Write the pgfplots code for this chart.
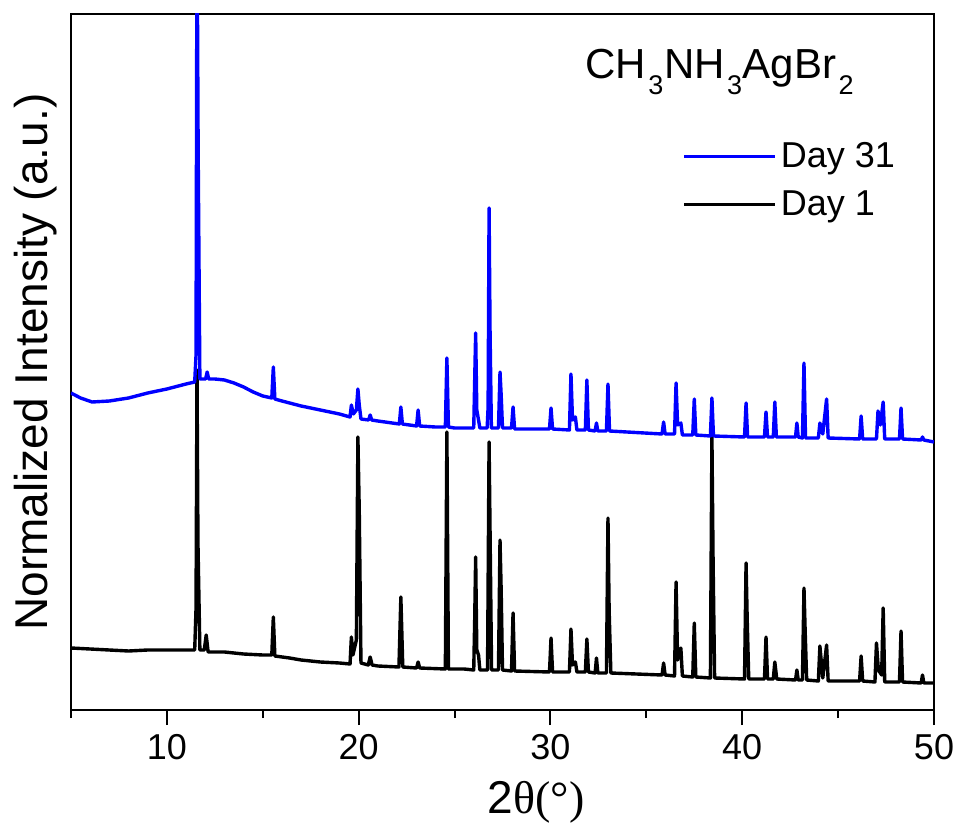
\documentclass[border=0pt]{standalone}
\usepackage{fontspec}
\setmainfont{Liberation Sans}
\newfontfamily\seriffont{Liberation Serif}
\usepackage{pgfplots}
\pgfplotsset{compat=1.18}
\newcommand\sub[1]{\hspace{1.2pt}\raisebox{-8pt}{\fontsize{13.5}{14}\selectfont #1}\hspace{0.3pt}}

\begin{document}
\begin{tikzpicture}
\begin{axis}[
    name=ax,
    scale only axis,
    width=431.5pt, height=348pt,
    xmin=5, xmax=50, ymin=0, ymax=696,
    axis line style={line width=1pt},
    xtick={10,20,30,40,50},
    minor xtick={5,15,25,35,45},
    ytick=\empty,
    xtick pos=left,
    tick align=outside,
    major tick length=7.5pt,
    minor tick length=4pt,
    every tick/.style={black, line width=1pt},
    /pgf/number format/assume math mode=true,
    xticklabel style={font=\fontsize{18}{20}\selectfont, anchor=base, yshift=-17pt},
    xlabel={2{\seriffont θ(°)}},
    ylabel={Normalized Intensity (a.u.)},
    label style={font=\fontsize{23}{26}\selectfont},
    xlabel style={at={(axis description cs:0.539,0)}, anchor=base, yshift=-51.5pt},
    ylabel style={at={(axis description cs:-0.0267,0.5)}, anchor=base},
    legend style={draw=none, fill=none, at={(axis description cs:0.708,0.822)},
        anchor=north west, inner sep=0pt, font=\fontsize{18}{20}\selectfont,
        row sep=6pt},
    legend cell align=left,
    reverse legend,
    legend image code/.code={\draw[#1] (0pt,0pt) -- (45.5pt,0pt);},
    every axis plot/.append style={line width=1.7pt, line join=round},
]
% Day 1
\addplot[black] coordinates {
(5,62) (6,61) (7,60) (8,59) (9,60) (10,60) (11,60) (11.45,60) (11.52,102) (11.57,340) (11.62,167) (11.72,60)
(11.95,60) (12.05,75) (12.15,58) (13,58) (14,56) (15,55) (15.47,55) (15.55,93) (15.63,54) (16.4,52) (17,50)
(18,48) (19,47) (19.55,46) (19.62,73) (19.7,55) (19.88,70) (19.96,273) (20.03,200) (20.12,47) (20.5,45)
(20.6,53) (20.7,45) (21,44) (22.1,43) (22.2,113) (22.3,43) (23.02,42) (23.1,48) (23.18,42) (24.52,41)
(24.6,278) (24.68,41) (25.5,41) (26.0,40) (26.05,90) (26.1,153) (26.16,60) (26.25,55) (26.32,40) (26.72,40)
(26.8,268) (26.85,180) (26.93,40) (27.29,40) (27.37,170) (27.43,120) (27.5,40) (27.97,39) (28.05,97) (28.13,39)
(29.95,38) (30.03,72) (30.11,38) (30.99,38) (31.07,81) (31.15,45) (31.3,48) (31.38,38) (31.82,38) (31.9,71)
(31.98,38) (32.33,37) (32.4,52) (32.47,37) (32.92,37) (33.0,192) (33.06,100) (33.15,37) (35.82,35) (35.9,47)
(35.98,35) (36.47,34) (36.55,128) (36.63,50) (36.8,62) (36.88,34) (37.42,33) (37.5,87) (37.58,33) (38.34,32)
(38.42,273) (38.48,150) (38.56,32) (40.12,31) (40.2,147) (40.26,90) (40.34,31) (41.16,31) (41.24,73) (41.32,31)
(41.62,31) (41.7,48) (41.8,31) (42.78,30) (42.85,40) (42.92,30) (43.14,30) (43.22,122) (43.28,80) (43.36,30)
(43.97,29) (44.05,64) (44.2,32) (44.4,65) (44.48,29) (46.12,29) (46.2,54) (46.28,29) (46.92,28) (47.0,67)
(47.1,40) (47.27,35) (47.35,102) (47.43,28) (48.2,28) (48.28,79) (48.36,28) (49.33,27) (49.4,35) (49.47,27)
(50,27)
};
\addlegendentry{Day 1}
% Day 31
\addplot[blue] coordinates {
(5,317) (5.5,312) (6.1,308) (7,309) (8,312) (9,317) (10,321) (11,326) (11.45,328) (11.52,355) (11.57,800)
(11.63,560) (11.72,331) (12.02,331) (12.1,338) (12.18,331) (12.5,331) (13,330) (13.5,327) (14,323) (14.5,318)
(15,314) (15.47,312) (15.55,343) (15.63,311) (16,309) (17,304) (18,300) (19,296) (19.55,293) (19.62,305)
(19.72,296) (19.88,300) (19.96,321) (20.03,305) (20.12,291) (20.52,290) (20.6,295) (20.68,290) (21,289)
(22.12,286) (22.2,303) (22.28,286) (23.02,284) (23.1,300) (23.18,284) (24,283) (24.52,283) (24.6,352)
(24.68,283) (25,282) (26.0,282) (26.05,330) (26.1,377) (26.16,300) (26.25,290) (26.32,282) (26.7,282)
(26.75,303) (26.8,502) (26.85,380) (26.92,282) (27.29,282) (27.37,338) (27.43,315) (27.5,282) (27.97,282)
(28.05,303) (28.13,281) (29.95,281) (30.03,302) (30.11,281) (30.99,280) (31.07,336) (31.15,290) (31.3,293)
(31.38,280) (31.82,280) (31.9,330) (31.98,280) (32.33,279) (32.4,287) (32.47,279) (32.92,279) (33.0,326)
(33.08,279) (35.82,276) (35.9,288) (35.98,276) (36.47,276) (36.55,327) (36.63,285) (36.8,287) (36.88,275)
(37.42,275) (37.5,311) (37.58,275) (38.34,274) (38.42,312) (38.5,274) (40.12,273) (40.2,307) (40.28,273)
(41.16,273) (41.24,298) (41.32,273) (41.62,273) (41.7,308) (41.78,273) (42.78,273) (42.85,287) (42.92,273)
(43.14,272) (43.22,347) (43.3,272) (43.97,272) (44.05,287) (44.2,276) (44.4,311) (44.48,272) (46.12,271)
(46.2,294) (46.28,271) (47.0,271) (47.08,299) (47.2,285) (47.35,308) (47.43,271) (48.2,271) (48.28,302)
(48.36,271) (49.33,270) (49.4,273) (49.47,270) (50,268)
};
\addlegendentry{Day 31}
\node[anchor=base west, inner sep=0pt, font=\fontsize{21}{24}\selectfont]
    at (rel axis cs:0.5956,0.908) {CH\sub{3}NH\sub{3}AgBr\sub{2}};
\end{axis}
\pgfresetboundingbox
\path[use as bounding box] ([xshift=-35.5pt,yshift=-57pt]ax.south west)
    rectangle ([xshift=13.5pt,yshift=7pt]ax.north east);
\end{tikzpicture}
\end{document}
